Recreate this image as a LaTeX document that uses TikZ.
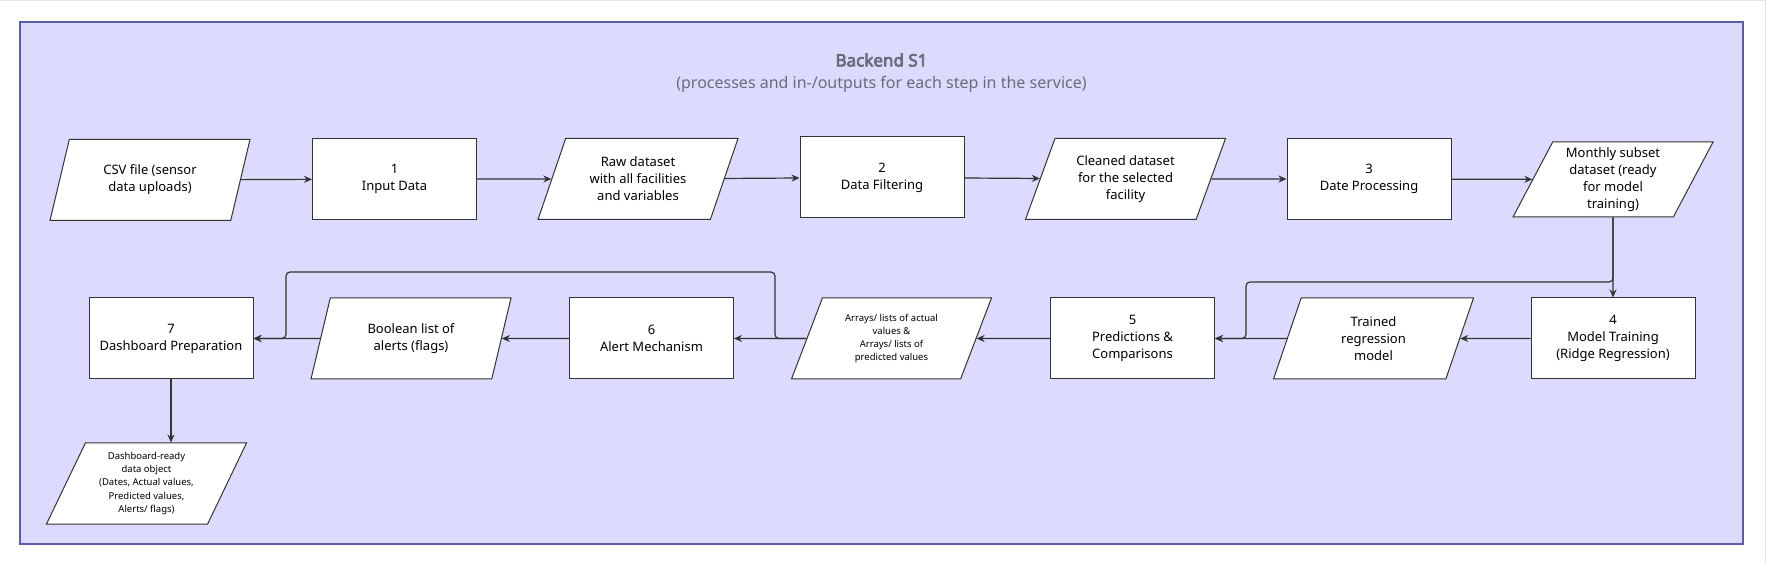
\documentclass[tikz,border=0pt]{standalone}
\usepackage{fontspec}
\setmainfont{Noto Sans}
\newfontfamily\headfont{Noto Sans}[FakeBold=4]
\usepackage{tikz}
\usetikzlibrary{arrows.meta,positioning,shapes.geometric}
\definecolor{FrameLilac}{HTML}{DCDAFD}
\definecolor{FrameEdge}{HTML}{5B5EA6}
\definecolor{HeadGray}{HTML}{6B6B7A}
\definecolor{LineDark}{HTML}{333333}

\begin{document}
\begin{tikzpicture}[x=1pt,y=1pt,
  stepbox/.style={draw=LineDark,fill=white,line width=1pt,minimum width=164pt,minimum height=81pt,
    align=center,inner sep=2pt,font=\fontsize{13}{17}\selectfont},
  iobox/.style={trapezium,trapezium left angle=59,trapezium right angle=121,trapezium stretches body,
    draw=LineDark,fill=white,line width=1pt,minimum width=200pt,minimum height=81pt,
    align=center,inner sep=1pt,font=\fontsize{13}{17}\selectfont},
  smalltext/.style={font=\fontsize{9.5}{13.3}\selectfont},
  flow/.style={draw=LineDark,line width=1.2pt,-{Stealth[length=8pt,width=7pt]}}]
  \useasboundingbox (0,0) rectangle (1766,565);
  \draw[gray!20,line width=1pt] (0,564.5) -- (1765,564.5) -- (1765,0);
  \draw[FrameEdge,fill=FrameLilac,line width=1.5pt] (20,21) rectangle (1743,543);
  \node[font=\headfont\fontsize{17}{20}\selectfont,text=HeadGray] (title) at (881.5,505) {Backend S1};
  \node[font=\fontsize{16}{20}\selectfont,text=HeadGray] (subtitle) at (881.5,481) {(processes and in-/outputs for each step in the service)};
  % first row, left to right
  \node[iobox] (csv) at (150,385) {CSV file (sensor\\data uploads)};
  \node[stepbox] (input) at (394.5,386) {1\\Input Data};
  \node[iobox] (raw) at (638,386) {Raw dataset\\with all facilities\\and variables};
  \node[stepbox] (filter) at (882,387.5) {2\\Data Filtering};
  \node[iobox] (clean) at (1125.5,386) {Cleaned dataset\\for the selected\\facility};
  \node[stepbox] (dateproc) at (1369,386) {3\\Date Processing};
  \node[iobox,minimum height=75pt] (monthly) at (1613,385.5) {Monthly subset\\dataset (ready\\for model\\training)};
  % second row, right to left
  \node[stepbox] (train) at (1613,226.5) {4\\Model Training\\(Ridge Regression)};
  \node[iobox] (model) at (1373.5,226.5) {Trained\\regression\\model};
  \node[stepbox] (predict) at (1132.5,226.5) {5\\Predictions \&\\Comparisons};
  \node[iobox,smalltext] (arrays) at (891.5,226.5) {Arrays/ lists of actual\\values \&\\Arrays/ lists of\\predicted values};
  \node[stepbox] (alert) at (651.5,226.5) {6\\Alert Mechanism};
  \node[iobox] (flags) at (411,226.5) {Boolean list of\\alerts (flags)};
  \node[stepbox] (dash) at (171,226.5) {7\\Dashboard Preparation};
  \node[iobox,smalltext] (ready) at (146.5,81.5) {Dashboard-ready\\data object\\(Dates, Actual values,\\Predicted values,\\Alerts/ flags)};
  \coordinate (splitL) at (1246,283);
  \coordinate (loopR) at (775,293);
  \coordinate (loopL) at (286,293);
  % connectors
  \draw[flow] (csv) -- (input);
  \draw[flow] (input) -- (raw);
  \draw[flow] (raw) -- (filter);
  \draw[flow] (filter) -- (clean);
  \draw[flow] (clean) -- (dateproc);
  \draw[flow] (dateproc) -- (monthly);
  \draw[flow] (monthly.south) -- (train.north);
  \draw[flow,rounded corners=4pt] (monthly.south) |- (splitL) |- (predict.east);
  \draw[flow] (train) -- (model);
  \draw[flow] (model) -- (predict);
  \draw[flow] (predict) -- (arrays);
  \draw[flow] (arrays) -- (alert);
  \draw[flow] (alert) -- (flags);
  \draw[flow] (flags) -- (dash);
  \draw[flow,rounded corners=4pt] (arrays.west) -| (loopR) -- (loopL) |- (dash.east);
  \draw[flow] (dash.south) -- (dash.south |- ready.north);
\end{tikzpicture}
\end{document}
